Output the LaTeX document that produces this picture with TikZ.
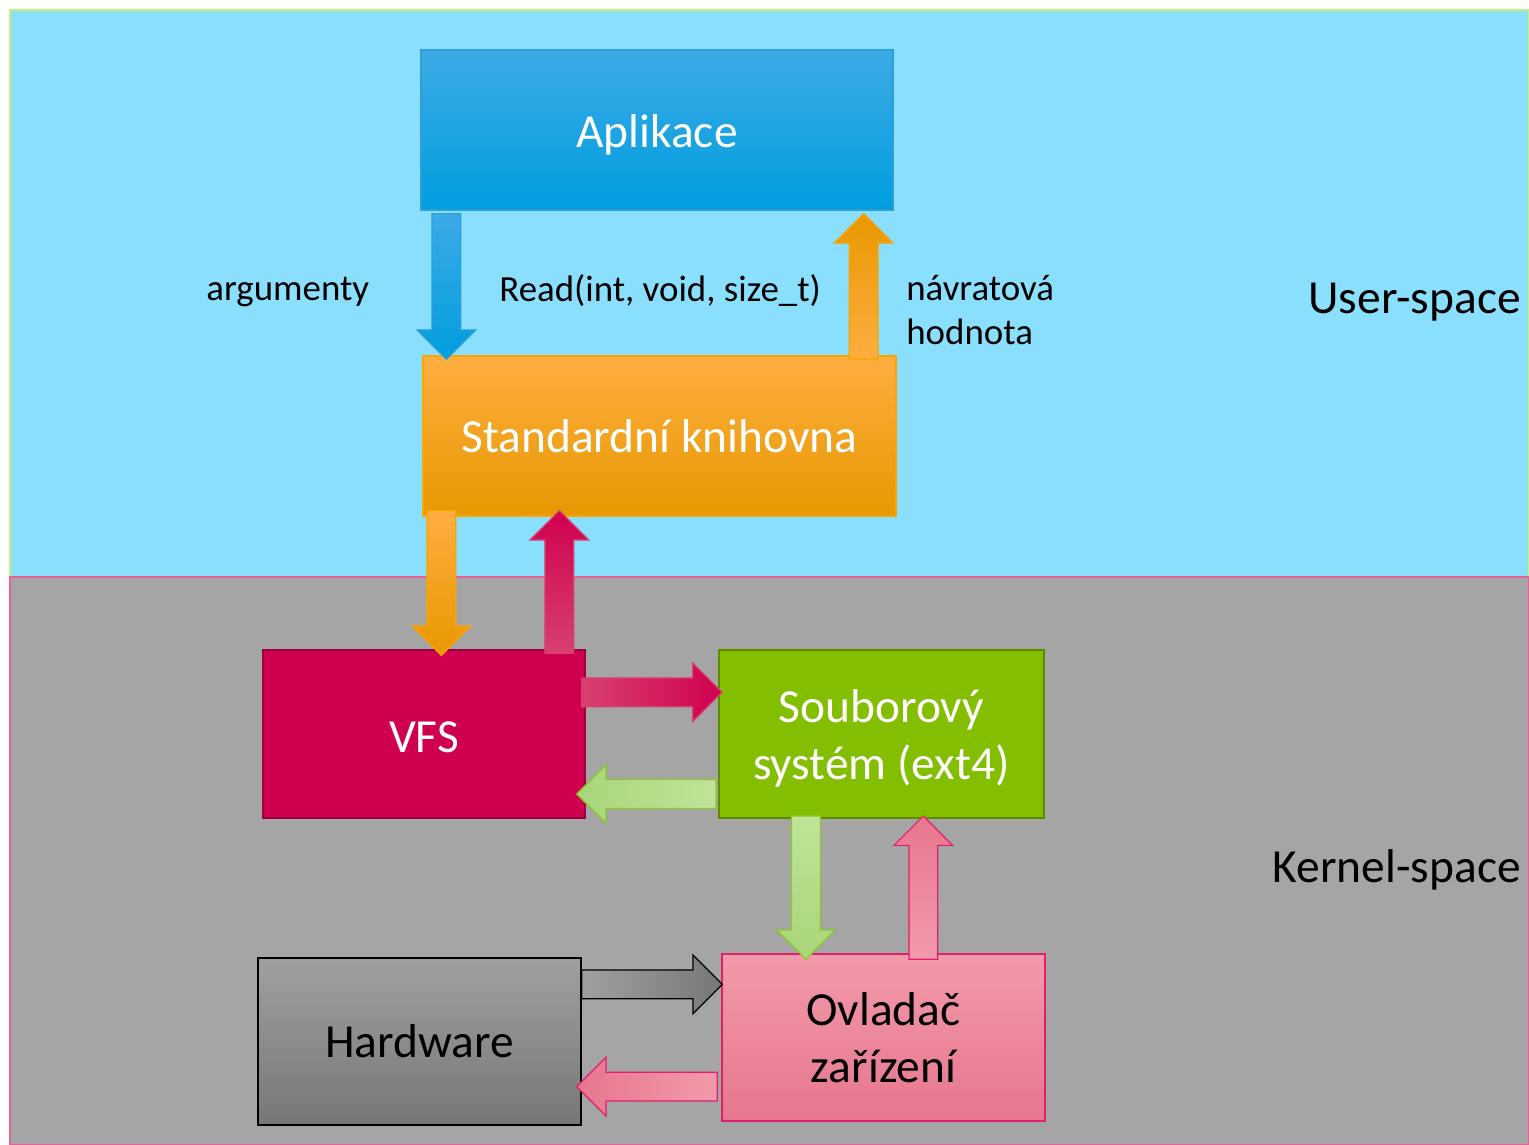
\documentclass[tikz,border=0pt]{standalone}
\usepackage{fontspec}
\setmainfont{Carlito}
\usetikzlibrary{calc}
\definecolor{userbg}{RGB}{138,223,253}
\definecolor{userbd}{RGB}{196,240,122}
\definecolor{kernbg}{RGB}{165,165,165}
\definecolor{kernbd}{RGB}{232,96,154}
\definecolor{blueA}{RGB}{60,170,230}
\definecolor{blueB}{RGB}{0,158,222}
\definecolor{blueD}{RGB}{46,159,216}
\definecolor{oraA}{RGB}{253,174,64}
\definecolor{oraB}{RGB}{232,152,0}
\definecolor{oraM}{RGB}{250,165,0}
\definecolor{crim}{RGB}{208,0,80}
\definecolor{crimL}{RGB}{216,64,112}
\definecolor{crimD}{RGB}{150,0,60}
\definecolor{grn}{RGB}{132,190,0}
\definecolor{grnD}{RGB}{94,138,0}
\definecolor{grnA}{RGB}{192,228,152}
\definecolor{grnB}{RGB}{168,214,120}
\definecolor{grnE}{RGB}{140,200,40}
\definecolor{pinkA}{RGB}{242,154,170}
\definecolor{pinkB}{RGB}{230,118,142}
\definecolor{pinkD}{RGB}{224,32,106}
\definecolor{grayA}{RGB}{160,160,160}
\definecolor{grayB}{RGB}{119,119,119}
\newcommand\varrow[3]{\path[#1] let \p1=(#2), \p2=(#3), \n2={\y2-16.7*(\y2-\y1)/abs(\y2-\y1)} in
  (\x1-8.2pt,\y1) -- (\x1-8.2pt,\n2) -- (\x1-16.7pt,\n2) -- (\x1,\y2) -- (\x1+16.7pt,\n2) -- (\x1+8.2pt,\n2) -- (\x1+8.2pt,\y1) -- cycle;}
\newcommand\harrow[3]{\path[#1] let \p1=(#2), \p2=(#3), \n2={\x2-16.7*(\x2-\x1)/abs(\x2-\x1)} in
  (\x1,\y1-8.2pt) -- (\n2,\y1-8.2pt) -- (\n2,\y1-16.7pt) -- (\x2,\y1) -- (\n2,\y1+16.7pt) -- (\n2,\y1+8.2pt) -- (\x1,\y1+8.2pt) -- cycle;}
\tikzset{
  boxtext/.style={font=\fontsize{27}{32.5}\selectfont, align=center, inner sep=0pt},
  lbl/.style={font=\fontsize{21}{25.5}\selectfont, align=left, inner sep=0pt},
  side/.style={font=\fontsize{27}{32.5}\selectfont, inner sep=0pt},
  box/.style={rectangle, inner sep=0pt, line width=0.8pt, boxtext},
  arr/.style={line width=0.7pt, line join=miter}
}
\begin{document}
\begin{tikzpicture}[x=0.02cm,y=-0.02cm]
\useasboundingbox (0,0) rectangle (1529,1145);
% backgrounds
\path[fill=userbg, draw=userbd, line width=0.8pt] (10,10) rectangle (1529,577);
\path[fill=kernbg, draw=kernbd, line width=0.8pt] (10,577) rectangle (1529,1145);
% boxes
\node[box, minimum width=9.44cm, minimum height=3.2cm, top color=blueA, bottom color=blueB, draw=blueD, text=white, text height=20pt, text depth=0pt] (app) at (657,130) {Aplikace};
\node[box, minimum width=9.46cm, minimum height=3.2cm, top color=oraA, bottom color=oraB, draw=oraM, text=white] (std) at (659.5,436) {Standardní knihovna};
\node[box, minimum width=6.44cm, minimum height=3.36cm, fill=crim, draw=crimD, text=white, text height=21.5pt, text depth=0pt] (vfs) at (424,734) {VFS};
\node[box, minimum width=6.5cm, minimum height=3.36cm, fill=grn, draw=grnD, line width=1.2pt, text=white, text height=56.8pt, text depth=4.5pt] (fs) at (881.5,734) {Souborový\\systém (ext4)};
\node[box, minimum width=6.46cm, minimum height=3.34cm, top color=grayA, bottom color=grayB, draw=black] (hw) at (419.5,1041.5) {Hardware};
\node[box, minimum width=6.46cm, minimum height=3.34cm, top color=pinkA, bottom color=pinkB, draw=pinkD] (ovl) at (883.5,1037.5) {Ovladač\\zařízení};
% labels
\node[lbl, anchor=west] (largs) at (206,292) {argumenty};
\node[lbl, anchor=west] (lread) at (499,291) {Read(int, void, size\_t)};
\node[lbl, anchor=west] (lret) at (906,310) {návratová\\hodnota};
\node[side, anchor=east] (lus) at (1521,302) {User-space};
\node[side, anchor=east] (lks) at (1521,870) {Kernel-space};
% arrows
\varrow{arr, top color=blueA, bottom color=blueB, draw=blueD}{$(app.south west)+(26,3)$}{$(std.north)+(0,4)$}
\varrow{arr, top color=oraB, bottom color=oraA, draw=oraM}{$(std.north east)+(-33,4)$}{$(app.south)+(0,3)$}
\varrow{arr, top color=oraA, bottom color=oraB, draw=oraM}{$(std.south west)+(19,-6)$}{$(vfs.north)+(0,6)$}
\varrow{arr, top color=crim, bottom color=crimL, draw=crimL}{$(vfs.north west)+(297,4)$}{$(std.south)+(0,-6)$}
\harrow{arr, left color=crimL, right color=crim, draw=crimL}{$(vfs.north east)+(-4,43)$}{$(fs.west)+(4,0)$}
\harrow{arr, left color=grnB, right color=grnA, draw=grnE}{$(fs.south west)+(-2,-25)$}{$(vfs.east)+(-9,0)$}
\varrow{arr, top color=grnA, bottom color=grnB, draw=grnE}{$(fs.south west)+(88,-3)$}{$(ovl.north)+(0,6)$}
\varrow{arr, top color=pinkB, bottom color=pinkA, draw=pinkD}{$(ovl.north west)+(202,6)$}{$(fs.south)+(0,-3)$}
\harrow{arr, left color=grayA, right color=grayB, draw=black}{$(hw.north east)+(0,27)$}{$(ovl.west)+(1,0)$}
\harrow{arr, left color=pinkB, right color=pinkA, draw=pinkD}{$(ovl.south west)+(-4,-35)$}{$(hw.east)+(-5,0)$}
\end{tikzpicture}
\end{document}
